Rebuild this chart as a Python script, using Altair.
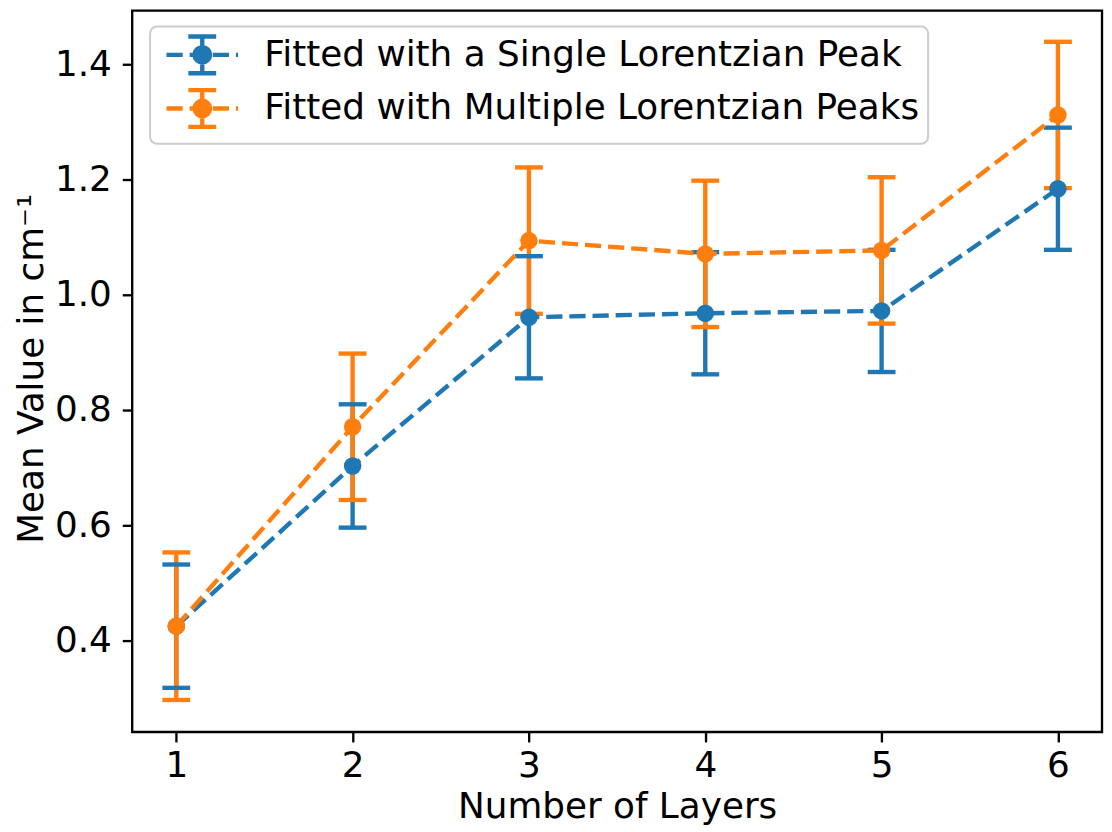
import altair as alt
import pandas as pd

# ---- data ----
layers = [1, 2, 3, 4, 5, 6]
single_mean = [0.425, 0.703, 0.961, 0.968, 0.972, 1.184]
single_err = [0.107, 0.107, 0.106, 0.106, 0.106, 0.106]
multi_mean = [0.425, 0.771, 1.094, 1.071, 1.077, 1.312]
multi_err = [0.128, 0.127, 0.127, 0.127, 0.127, 0.127]
series_names = ["Fitted with a Single Lorentzian Peak", "Fitted with Multiple Lorentzian Peaks"]
colors = ["#1f77b4", "#ff7f0e"]
x_ticks = [1, 2, 3, 4, 5, 6]
y_ticks = [0.4, 0.6, 0.8, 1.0, 1.2, 1.4]

rows = []
for name, means, errs in [(series_names[0], single_mean, single_err),
                          (series_names[1], multi_mean, multi_err)]:
    for lx, m, e in zip(layers, means, errs):
        rows.append({"layers": lx, "mean": m, "err": e, "series": name})
df = pd.DataFrame(rows)

FONT = "DejaVu Sans"
LW = 4.4
FS = 36

# legend symbol: dashed line + error bar + marker (unit = 18 px)
legend_path = (
    "M-2,0L-1.094,0M-0.706,0L0.2,0M0.589,0L1.494,0M1.883,0L2,0"
    "M0,-1.028L0,1.028M-0.778,-1.028L0.778,-1.028M-0.778,1.028L0.778,1.028"
    "M0.122,0A0.122,0.122 0 1,1 -0.122,0A0.122,0.122 0 1,1 0.122,0Z"
    "M0.306,0A0.306,0.306 0 1,1 -0.306,0A0.306,0.306 0 1,1 0.306,0Z"
    "M0.433,0A0.433,0.433 0 1,1 -0.433,0A0.433,0.433 0 1,1 0.433,0Z"
)

xenc = alt.X("layers:Q",
             scale=alt.Scale(domain=[0.75, 6.25], nice=False, zero=False),
             axis=alt.Axis(values=x_ticks, format="d", title="Number of Layers",
                           labelPadding=7, labelFlush=False, labelOverlap=False,
                           titleX=488, titleY=86, titleBaseline="alphabetic"))
yscale = alt.Scale(domain=[0.2414, 1.4931], nice=False, zero=False)
yaxis = alt.Axis(values=y_ticks, format=".1f", title="Mean Value in cm⁻¹",
                 labelPadding=11, labelFlush=False, labelOverlap=False,
                 titleX=-90, titleY=360, titleAngle=270, titleAlign="center",
                 titleBaseline="alphabetic")

color_plain = alt.Color("series:N", scale=alt.Scale(domain=series_names, range=colors), legend=None)
color_legend = alt.Color(
    "series:N",
    scale=alt.Scale(domain=series_names, range=colors),
    legend=alt.Legend(
        title=None, orient="none", legendX=18, legendY=16, padding=8,
        fillColor="rgba(255,255,255,0.8)", strokeColor="#cccccc", cornerRadius=7,
        symbolType=legend_path, symbolSize=1296, symbolStrokeWidth=LW,
        symbolOffset=24,
        symbolOpacity=1, labelFont=FONT, labelFontSize=FS, labelColor="black",
        labelLimit=2000, labelOffset=42, rowPadding=-1,
    ),
)

base = alt.Chart(df).transform_calculate(
    lo="datum.mean - datum.err", hi="datum.mean + datum.err"
)

bars = base.mark_rule(strokeWidth=LW).encode(
    x=xenc, y=alt.Y("lo:Q", scale=yscale, axis=yaxis), y2="hi:Q", color=color_legend
)
cap_lo = base.mark_tick(orient="horizontal", size=28, thickness=LW, opacity=1).encode(
    x=xenc, y=alt.Y("lo:Q", scale=yscale, axis=yaxis), color=color_plain
)
cap_hi = base.mark_tick(orient="horizontal", size=28, thickness=LW, opacity=1).encode(
    x=xenc, y=alt.Y("hi:Q", scale=yscale, axis=yaxis), color=color_plain
)
lines = base.mark_line(strokeDash=[16.3, 7], strokeWidth=LW).encode(
    x=xenc, y=alt.Y("mean:Q", scale=yscale, axis=yaxis), color=color_plain
)
points = base.mark_circle(size=310, opacity=1).encode(
    x=xenc, y=alt.Y("mean:Q", scale=yscale, axis=yaxis), color=color_plain
)

chart = alt.layer(bars, cap_lo, cap_hi, lines, points).properties(
    width=976, height=726,
    autosize=alt.AutoSizeParams(type="none"),
    padding={"left": 125, "top": 0, "right": 2, "bottom": 96},
).configure_view(
    stroke="black", strokeWidth=2.35
).configure_axis(
    domain=False, grid=False, tickColor="black", tickWidth=2.35, tickSize=10,
    labelFont=FONT, labelFontSize=FS, labelColor="black",
    titleFont=FONT, titleFontSize=FS, titleFontWeight="normal", titleColor="black",
).configure_legend(
    strokeWidth=2
)

chart.save("out.html", embed_options={"renderer": "svg", "actions": False})
